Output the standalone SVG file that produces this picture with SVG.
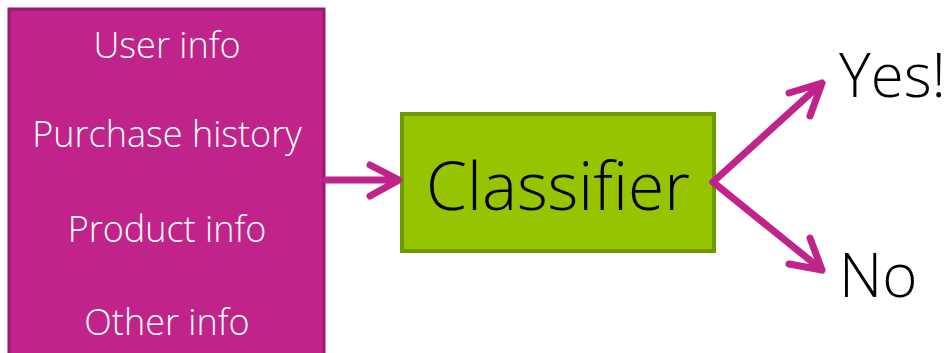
<svg xmlns="http://www.w3.org/2000/svg" width="949" height="353" viewBox="0 0 949 353">
<style>
.lbl{font-family:"Open Sans","Liberation Sans",sans-serif;font-weight:300}
.in{fill:#ffffff;font-size:36px;text-anchor:middle}
.arrow{fill:none;stroke:#c0248a;stroke-width:7;stroke-linecap:round;stroke-linejoin:round}
</style>
<rect width="949" height="353" fill="#ffffff"/>
<g id="inputs">
<rect x="9" y="9" width="315" height="346" fill="#c0248a" stroke="#9a1a70" stroke-width="3"/>
<text class="lbl in" x="167" y="58">User info</text>
<text class="lbl in" x="167" y="147">Purchase history</text>
<text class="lbl in" x="167" y="242">Product info</text>
<text class="lbl in" x="167" y="335">Other info</text>
</g>
<g id="classifier">
<rect x="402" y="114" width="312" height="137" fill="#96c400" stroke="#6e9a00" stroke-width="4"/>
<text class="lbl" x="558" y="210" font-size="66" text-anchor="middle" fill="#000000">Classifier</text>
</g>
<g id="yes">
<text class="lbl" x="839" y="97" font-size="60" fill="#000000">Yes!</text>
</g>
<g id="no">
<text class="lbl" x="839" y="297" font-size="60" fill="#000000">No</text>
</g>
<g id="connectors">
<path class="arrow" d="M326 180 H398 M370 165 L399 180 L370 196"/>
<path class="arrow" d="M713 182 L822 83 M789 93 L822 83 L810 116"/>
<path class="arrow" d="M713 182 L822 270 M789 264 L822 270 L810 238"/>
</g>
</svg>
